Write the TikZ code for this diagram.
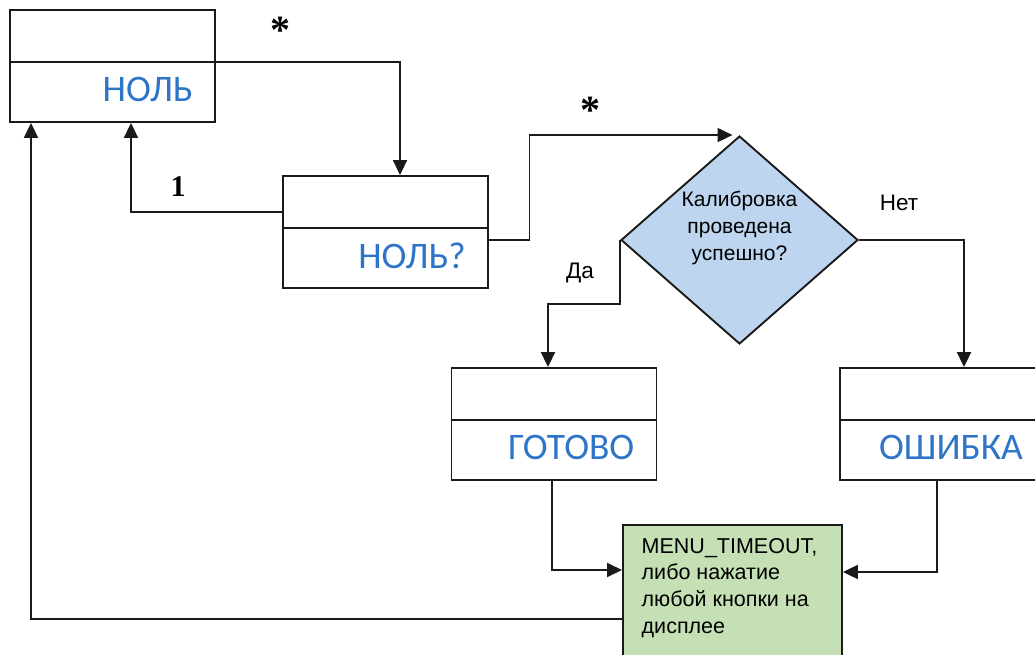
\documentclass[tikz,border=0pt]{standalone}
\usepackage{fontspec}
\setmainfont{Liberation Sans}
\newfontfamily\calfont{Carlito}
\newfontfamily\serfont{Liberation Serif}
\usetikzlibrary{shapes.geometric,arrows.meta,calc}
\definecolor{lineC}{HTML}{1A1A1A}
\definecolor{stateBlue}{HTML}{2E75C7}
\definecolor{diaFill}{HTML}{BDD5EE}
\definecolor{greenFill}{HTML}{C5E0B4}
\tikzset{
 statebox/.style={draw=lineC, line width=1.9pt, minimum width=205pt, minimum height=112pt, inner sep=0pt},
 statelabel/.style={font=\calfont\fontsize{37.5}{40}\selectfont, text=stateBlue, inner sep=0pt, anchor=base east},
 arr/.style={draw=lineC, line width=1.9pt, -{Triangle[length=15pt,width=14pt]}},
 conn/.style={draw=lineC, line width=1.9pt},
 smalltext/.style={font=\fontsize{21}{26.6}\selectfont, inner sep=0pt},
 greentext/.style={font=\fontsize{21.5}{26.7}\selectfont, inner sep=0pt},
 edgetext/.style={font=\fontsize{22.5}{22.5}\selectfont, inner sep=0pt},
 marktext/.style={font=\serfont\bfseries\fontsize{30}{30}\selectfont, inner sep=0pt},
 starmark/.style={font=\serfont\bfseries\fontsize{40}{40}\selectfont, inner sep=0pt, anchor=base},
}
\begin{document}
\begin{tikzpicture}[x=1pt,y=1pt]
\clip (0,0) rectangle (1035,-655);
% state boxes
\node[statebox] (nol) at (112.5,-66) {};
\node[statebox] (nolq) at (385.5,-232) {};
\node[statebox] (got) at (554,-424) {};
\node[statebox] (osh) at (942.5,-424) {};
\foreach \b in {nol,nolq,got,osh}{
  \draw[conn] ([yshift=4]\b.west) -- ([yshift=4]\b.east);
}
\node[statelabel] (nolT) at ($(nol.center)+(80.5,-36)$) {НОЛЬ};
\node[statelabel] (nolqT) at ($(nolq.center)+(80.5,-36)$) {НОЛЬ?};
\node[statelabel] (gotT) at ($(got.center)+(80.5,-35)$) {ГОТОВО};
\node[statelabel] (oshT) at ($(osh.center)+(80.5,-35)$) {ОШИБКА};
% decision
\node[diamond, draw=lineC, line width=1.9pt, fill=diaFill, minimum width=237pt, minimum height=208pt, inner sep=0pt] (dia) at (739.5,-240) {};
\node[smalltext, align=center] (diaT) at (739.5,-228) {Калибровка\\проведена\\успешно?};
% green box
\node[draw=lineC, line width=1.9pt, fill=greenFill, minimum width=219pt, minimum height=160pt, anchor=north west, inner sep=0pt] (green) at (622,-524) {};
\node[greentext, align=left, anchor=north west] (greenT) at (641.5,-538) {MENU\_TIMEOUT,\\либо нажатие\\любой кнопки на\\дисплее};
% connectors
\draw[arr] ([yshift=4]nol.east) -| ([xshift=14.5]nolq.north);
\draw[arr] ([yshift=20]nolq.west) -| ([xshift=18.5]nol.south);
\draw[arr] ([yshift=-8]nolq.east) -| ($(dia.north)+(-210,0)$) -- ([xshift=-7]dia.north);
\draw[arr] (dia.west) -- ++(0,-64) -| ([xshift=-6]got.north);
\draw[arr] (dia.east) -| ([xshift=21.5]osh.north);
\draw[arr] ([xshift=-2]got.south) |- ($(green.north west)+(0,-46)$);
\draw[arr] ([xshift=-5.5]osh.south) |- ($(green.north east)+(0,-48)$);
\draw[arr] ($(green.north west)+(0,-95)$) -| ([xshift=-81.5]nol.south);
% labels
\node[edgetext] (net) at (899,-203) {Нет};
\node[edgetext] (da) at (580,-273) {Да};
\node[marktext] (one) at (178,-187) {1};
\node[starmark] (star1) at (280,-44) {*};
\node[starmark] (star2) at (590,-124) {*};
\end{tikzpicture}
\end{document}
